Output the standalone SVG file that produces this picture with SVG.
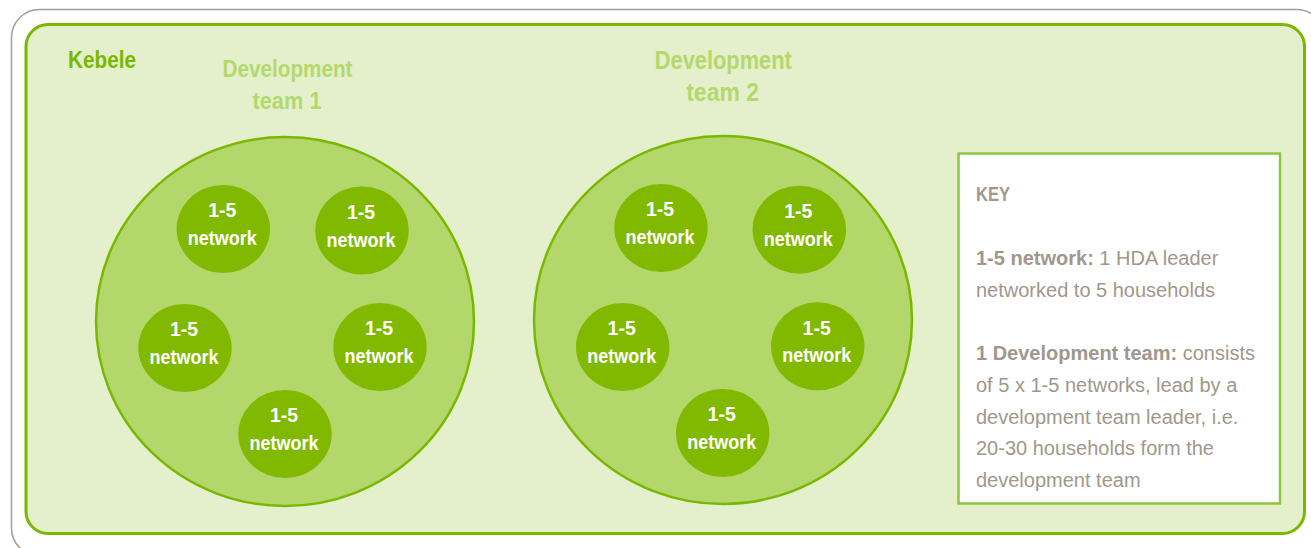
<svg xmlns="http://www.w3.org/2000/svg" width="1311" height="548" viewBox="0 0 1311 548">
<style>
.frame{fill:#ffffff;stroke:#a59d96;stroke-width:1.5}
.kebele{fill:#e4f0cb;stroke:#7ab800;stroke-width:3}
.team{fill:#b3d76b;stroke:#7ab800;stroke-width:2.5}
.net{fill:#80b900}
.nt{font-family:"Liberation Sans",Arial,sans-serif;font-weight:bold;font-size:19.5px;fill:#ffffff;text-anchor:middle}
.title{font-family:"Liberation Sans",Arial,sans-serif;font-weight:bold;fill:#b4d86d;text-anchor:middle}
.keb{font-family:"Liberation Sans",Arial,sans-serif;font-weight:bold;font-size:24px;fill:#7ab800}
.keybox{fill:#ffffff;stroke:#8cc63f;stroke-width:2.5}
.kt{font-family:"Liberation Sans",Arial,sans-serif;font-size:20px;fill:#a1978c}
.kb{font-weight:bold}
</style>
<rect class="frame" x="11.5" y="9.5" width="1313" height="546.5" rx="28"/>
<g id="kebele">
<rect class="kebele" x="26" y="24.5" width="1278.5" height="509" rx="22"/>
<text class="keb" x="68" y="68" textLength="68" lengthAdjust="spacingAndGlyphs">Kebele</text>
</g>
<g id="team1">
<ellipse class="team" cx="285" cy="321.5" rx="189" ry="184.5"/>
<text class="title" font-size="24.5" x="287.5" y="77" textLength="130" lengthAdjust="spacingAndGlyphs">Development</text>
<text class="title" font-size="24.5" x="287" y="108.5" textLength="69" lengthAdjust="spacingAndGlyphs">team 1</text>
</g>
<g id="team2">
<ellipse class="team" cx="723" cy="320" rx="189" ry="184"/>
<text class="title" font-size="26" x="723.3" y="69" textLength="137" lengthAdjust="spacingAndGlyphs">Development</text>
<text class="title" font-size="26" x="722.7" y="100.7" textLength="73" lengthAdjust="spacingAndGlyphs">team 2</text>
</g>
<g id="t1n1"><ellipse class="net" cx="223.3" cy="229" rx="46.7" ry="44"/><text class="nt" x="222.3" y="217.3">1-5</text><text class="nt" x="222.3" y="245" textLength="69" lengthAdjust="spacingAndGlyphs">network</text></g>
<g id="t1n2"><ellipse class="net" cx="362" cy="230.5" rx="46.7" ry="44"/><text class="nt" x="361" y="218.8">1-5</text><text class="nt" x="361" y="246.5" textLength="69" lengthAdjust="spacingAndGlyphs">network</text></g>
<g id="t1n3"><ellipse class="net" cx="185" cy="348" rx="46.7" ry="44"/><text class="nt" x="184" y="336.3">1-5</text><text class="nt" x="184" y="364" textLength="69" lengthAdjust="spacingAndGlyphs">network</text></g>
<g id="t1n4"><ellipse class="net" cx="380" cy="347" rx="46.7" ry="44"/><text class="nt" x="379" y="335.3">1-5</text><text class="nt" x="379" y="363" textLength="69" lengthAdjust="spacingAndGlyphs">network</text></g>
<g id="t1n5"><ellipse class="net" cx="285" cy="434" rx="46.7" ry="44"/><text class="nt" x="284" y="422.3">1-5</text><text class="nt" x="284" y="450" textLength="69" lengthAdjust="spacingAndGlyphs">network</text></g>
<g id="t2n1"><ellipse class="net" cx="661" cy="228" rx="46.7" ry="44"/><text class="nt" x="660" y="216.3">1-5</text><text class="nt" x="660" y="244" textLength="69" lengthAdjust="spacingAndGlyphs">network</text></g>
<g id="t2n2"><ellipse class="net" cx="799.3" cy="229.7" rx="46.7" ry="44"/><text class="nt" x="798.3" y="218">1-5</text><text class="nt" x="798.3" y="245.7" textLength="69" lengthAdjust="spacingAndGlyphs">network</text></g>
<g id="t2n3"><ellipse class="net" cx="622.7" cy="347" rx="46.7" ry="44"/><text class="nt" x="621.7" y="335.3">1-5</text><text class="nt" x="621.7" y="363" textLength="69" lengthAdjust="spacingAndGlyphs">network</text></g>
<g id="t2n4"><ellipse class="net" cx="817.7" cy="346.3" rx="46.7" ry="44"/><text class="nt" x="816.7" y="334.6">1-5</text><text class="nt" x="816.7" y="362.3" textLength="69" lengthAdjust="spacingAndGlyphs">network</text></g>
<g id="t2n5"><ellipse class="net" cx="722.7" cy="433" rx="46.7" ry="44"/><text class="nt" x="721.7" y="421.3">1-5</text><text class="nt" x="721.7" y="449" textLength="69" lengthAdjust="spacingAndGlyphs">network</text></g>
<g id="key">
<rect class="keybox" x="958.5" y="153.5" width="321.5" height="350"/>
<text class="kt kb" x="976" y="201" font-size="23" textLength="34" lengthAdjust="spacingAndGlyphs">KEY</text>
<text class="kt" x="976" y="265"><tspan class="kb">1-5 network:</tspan> 1 HDA leader</text>
<text class="kt" x="976" y="297">networked to 5 households</text>
<text class="kt" x="976" y="360"><tspan class="kb">1 Development team:</tspan> consists</text>
<text class="kt" x="976" y="392">of 5 x 1-5 networks, lead by a</text>
<text class="kt" x="976" y="423.5">development team leader, i.e.</text>
<text class="kt" x="976" y="455">20-30 households form the</text>
<text class="kt" x="976" y="487">development team</text>
</g>
<g id="connectors"></g>
</svg>
